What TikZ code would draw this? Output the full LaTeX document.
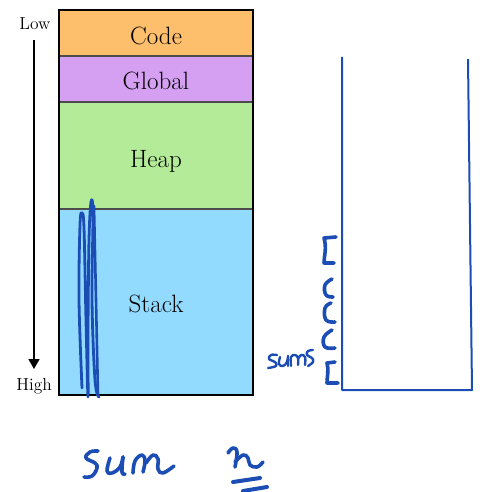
\documentclass[tikz,border=0pt]{standalone}
\usepackage{graphicx}
\usetikzlibrary{arrows.meta}
\definecolor{codeC}{HTML}{FEBF6C}
\definecolor{globalC}{HTML}{D5A0F1}
\definecolor{heapC}{HTML}{B3EB98}
\definecolor{stackC}{HTML}{92DBFF}
\definecolor{ink}{HTML}{1C4DB5}
\newcommand{\segtext}[1]{\scalebox{1.45}{\fontsize{17.28}{20}\selectfont #1}}
\newcommand{\axistext}[1]{\scalebox{1.45}{\fontsize{12}{14}\selectfont #1}}
\tikzset{
  seg/.style={draw=black!70, line width=1.2pt, minimum width=194pt, inner sep=0pt, outer sep=0pt},
  segname/.style={anchor=base, inner sep=0pt},
  pen/.style={draw=ink, line width=#1, line cap=round, line join=round},
  pen/.default=3pt
}
\begin{document}
\begin{tikzpicture}[x=1pt, y=-1pt]
\useasboundingbox (0,0) rectangle (479,492);

% memory segments, low addresses at the top
\node[seg, fill=codeC,   minimum height=46pt]  (code)   at (156,33)    {};
\node[seg, fill=globalC, minimum height=46pt]  (global) at (156,79)    {};
\node[seg, fill=heapC,   minimum height=107pt] (heap)   at (156,155.5) {};
\node[seg, fill=stackC,  minimum height=186pt] (stack)  at (156,302)   {};
\draw[line width=2.5pt] (code.north west) rectangle (stack.south east);
\node[segname] (codeT)   at (156,45)  {\segtext{Code}};
\node[segname] (globalT) at (156,90)  {\segtext{Global}};
\node[segname] (heapT)   at (156,167) {\segtext{Heap}};
\node[segname] (stackT)  at (156,312) {\segtext{Stack}};

% address direction
\node[segname] (low)  at (35,30)  {\axistext{Low}};
\node[segname] (high) at (34,390) {\axistext{High}};
\coordinate (atop) at (34,40);
\coordinate (abot) at (34,369);
\draw[line width=1.6pt, -{Triangle[width=11pt,length=10pt]}] (atop) -- (abot);

% scribble over the stack
\draw[pen=2.8pt] plot[smooth, tension=0.6] coordinates {(82,388) (79,300) (80,225) (82,213) (84,228) (86,320) (88,397) (88,330) (89,240) (91,202) (93,214) (92,300) (95,380) (99,397)};
\draw[pen=2.6pt] plot[smooth, tension=0.6] coordinates {(94,206) (96,300) (98,396)};

% stack container
\coordinate (ctl) at (342,57);
\coordinate (cbl) at (342,390);
\coordinate (cbr) at (472,390);
\coordinate (ctr) at (468,59);
\draw[pen=2pt, line cap=butt] (ctl) -- (cbl) -- (cbr) -- (ctr);

% frames pushed onto the stack
\draw[pen=3.6pt] (336,237) -- (324,238) .. controls (327,248) and (324,256) .. (324,263) -- (334,263);
\draw[pen=3.6pt] plot[smooth, tension=0.7] coordinates {(332,279) (325,285) (326,295) (333,297)};
\draw[pen=3.6pt] plot[smooth, tension=0.7] coordinates {(331,303) (325,308) (326,320) (335,322)};
\draw[pen=3.6pt] plot[smooth, tension=0.7] coordinates {(332,330) (324,337) (325,347) (335,348)};
\draw[pen=3.6pt] (335,362) -- (327,363) .. controls (329,370) and (327,377) .. (327,383) -- (338,383);

% handwritten "sums"
\draw[pen=2.4pt] plot[smooth, tension=0.7] coordinates {(277,355) (271,355) (269,359) (275,362) (276,366) (268,368)};
\draw[pen=2.4pt] plot[smooth, tension=0.7] coordinates {(280,357) (279,364) (283,366) (287,362) (288,356)};
\draw[pen=2.4pt] (288,356) -- (288,366);
\draw[pen=2.4pt] plot[smooth, tension=0.7] coordinates {(291,366) (291,357) (295,355) (298,358) (298,365)};
\draw[pen=2.4pt] plot[smooth, tension=0.7] coordinates {(298,359) (301,355) (305,357) (305,365)};
\draw[pen=2.4pt] plot[smooth, tension=0.7] coordinates {(313,350) (308,351) (307,355) (312,358) (313,362) (308,366)};

% handwritten "sum"
\draw[pen=3.6pt] plot[smooth, tension=0.7] coordinates {(98,451) (90,452) (86,458) (95,463) (97,468) (92,476) (84,477)};
\draw[pen=3.6pt] plot[smooth, tension=0.7] coordinates {(110,458) (107,471) (112,473) (120,467) (123,457)};
\draw[pen=3.6pt] plot[smooth, tension=0.7] coordinates {(123,457) (122,472) (125,474)};
\draw[pen=3.6pt] plot[smooth, tension=0.7] coordinates {(133,473) (135,461) (142,455) (145,461) (143,472)};
\draw[pen=3.6pt] plot[smooth, tension=0.7] coordinates {(146,463) (153,455) (158,459) (158,469) (163,473) (174,466)};

% handwritten "n", double underlined
\draw[pen=3.6pt] plot[smooth, tension=0.7] coordinates {(228,453) (233,448) (237,452) (235,467)};
\draw[pen=3.6pt] plot[smooth, tension=0.7] coordinates {(235,462) (243,455) (248,458) (250,465) (257,467) (263,462)};
\draw[pen=4pt] (233,482) -- (260,478);
\draw[pen=4pt] (243,491) -- (267,487);
\end{tikzpicture}
\end{document}
